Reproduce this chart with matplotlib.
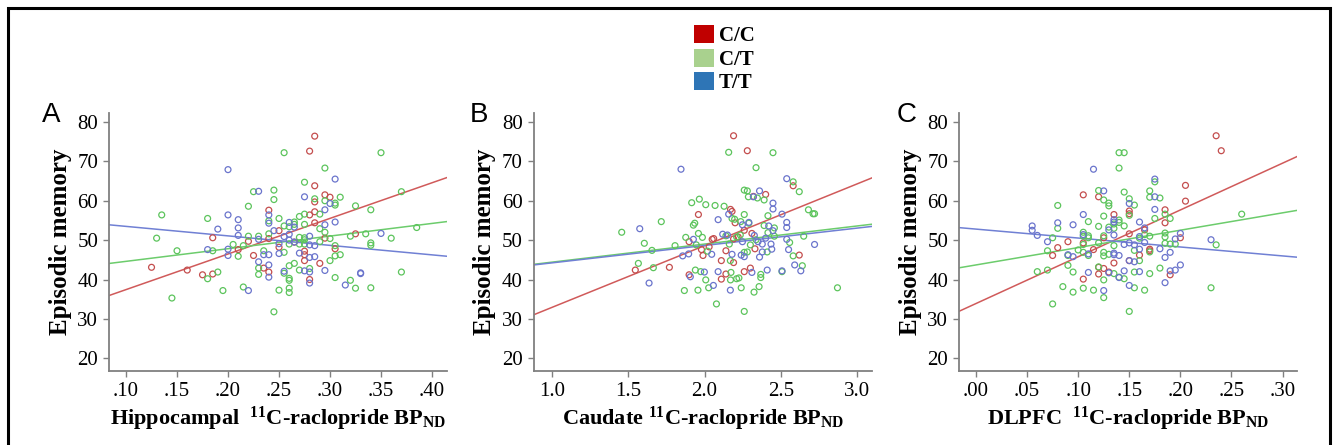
import numpy as np
import matplotlib
matplotlib.use("Agg")
import matplotlib.pyplot as plt
from matplotlib.patches import Patch, Rectangle

# Valeurs (BPND, mémoire épisodique) par génotype
# --- Panel A : hippocampe
a_cc_x = [.125, .160, .175, .185, .185, .210, .220, .225, .235, .240, .240, .240, .250, .250,
          .265, .275, .275, .275, .280, .280, .280, .285, .285, .285, .285, .285, .290, .295,
          .300, .295, .305, .325]
a_cc_y = [43.1, 42.4, 41.2, 41.4, 50.6, 47.6, 49.7, 46.1, 42.9, 57.6, 41.9, 50.4, 52.4, 48.2,
          49.5, 47.2, 46.3, 44.8, 72.6, 56.4, 40.0, 76.4, 63.8, 59.7, 57.2, 54.4, 44.1, 61.5,
          60.9, 50.5, 47.8, 51.6]
a_ct_x = [.130, .135, .145, .150, .180, .180, .185, .190, .195, .205, .210, .215, .215, .220,
          .220, .225, .230, .230, .230, .235, .240, .240, .245, .245, .245, .250, .250, .255,
          .255, .255, .255, .260, .260, .260, .260, .260, .260, .260, .265, .265, .265, .270,
          .270, .270, .270, .275, .275, .275, .275, .275, .275, .280, .285, .290, .290, .290,
          .295, .295, .295, .300, .300, .305, .305, .305, .305, .305, .310, .310, .320, .320,
          .325, .325, .335, .340, .340, .340, .340, .350, .360, .370, .370, .385]
a_ct_y = [50.5, 56.4, 35.3, 47.3, 55.5, 40.2, 47.3, 41.9, 37.2, 48.9, 45.9, 48.6, 38.1, 58.6,
          51.0, 62.3, 51.0, 42.9, 41.3, 47.3, 54.9, 51.6, 62.7, 60.3, 31.8, 55.5, 37.3, 72.2,
          53.6, 46.9, 41.6, 53.4, 49.0, 43.5, 40.3, 39.8, 37.8, 36.7, 54.6, 54.0, 44.1, 56.0,
          50.7, 49.0, 42.4, 64.7, 56.6, 54.0, 50.6, 50.1, 49.0, 42.8, 60.5, 52.9, 49.6, 56.6,
          68.3, 60.0, 52.0, 50.4, 44.8, 59.4, 58.9, 48.6, 46.0, 40.5, 60.9, 46.3, 51.0, 39.8,
          58.7, 37.8, 51.6, 57.7, 49.3, 48.7, 37.9, 72.2, 50.5, 62.3, 41.9, 53.2]
a_tt_x = [.180, .190, .200, .200, .200, .200, .210, .210, .210, .220, .230, .230, .230, .235,
          .240, .240, .240, .240, .240, .245, .250, .250, .255, .255, .260, .260, .260, .265,
          .265, .270, .275, .275, .280, .280, .280, .280, .280, .285, .285, .295, .295, .295,
          .300, .305, .305, .315, .330, .330, .350]
a_tt_y = [47.6, 52.8, 67.9, 56.4, 47.7, 46.1, 55.2, 53.1, 51.2, 37.2, 62.4, 50.2, 44.5, 46.3,
          56.4, 54.3, 46.3, 43.7, 40.6, 52.4, 49.1, 46.6, 50.9, 42.1, 54.5, 51.5, 50.0, 53.3,
          49.5, 46.7, 61.0, 42.2, 51.0, 48.8, 45.6, 41.9, 39.1, 48.6, 45.8, 57.7, 53.9, 42.3,
          59.3, 65.5, 54.6, 38.6, 41.7, 41.5, 51.7]

# --- Panel B : caudé
b_cc_x = [1.547, 1.77, 1.899, 1.899, 1.96, 1.98, 1.99, 2.03, 2.05, 2.06, 2.11, 2.11, 2.14,
          2.14, 2.17, 2.18, 2.19, 2.19, 2.19, 2.20, 2.22, 2.26, 2.26, 2.28, 2.30, 2.31, 2.32,
          2.33, 2.40, 2.58, 2.62]
b_cc_y = [42.4, 43.1, 41.2, 49.6, 56.5, 47.6, 46.1, 48.3, 50.2, 50.4, 44.8, 40.1, 47.3,
          41.4, 57.8, 57.3, 44.3, 76.5, 50.3, 54.4, 50.8, 52.5, 42.0, 72.7, 42.9, 51.7, 61.1,
          47.8, 61.6, 63.8, 46.2]
b_ct_x = [1.458, 1.567, 1.606, 1.656, 1.665, 1.717, 1.807, 1.868, 1.877, 1.916, 1.927, 1.936,
          1.94, 1.946, 1.957, 1.96, 1.966, 1.975, 1.986, 2.008, 2.008, 2.02, 2.027, 2.078,
          2.069, 2.128, 2.14, 2.158, 2.162, 2.169, 2.17, 2.173, 2.18, 2.197, 2.21, 2.21, 2.225,
          2.234, 2.24, 2.237, 2.26, 2.26, 2.26, 2.26, 2.28, 2.287, 2.29, 2.28, 2.30, 2.324,
          2.337, 2.337, 2.346, 2.357, 2.368, 2.368, 2.39, 2.39, 2.415, 2.415, 2.41, 2.448,
          2.457, 2.457, 2.507, 2.557, 2.58, 2.58, 2.62, 2.64, 2.649, 2.68, 2.71, 2.72, 2.87]
b_ct_y = [52.0, 44.1, 49.2, 47.4, 43.0, 54.7, 48.6, 37.2, 50.7, 59.5, 53.8, 54.3, 42.4, 48.8,
          37.3, 51.7, 60.4, 42.0, 50.7, 59.0, 39.9, 47.2, 37.9, 33.8, 58.8, 58.6, 51.1, 72.3,
          49.0, 44.8, 39.9, 41.8, 55.5, 55.3, 50.8, 40.2, 40.4, 51.3, 37.9, 54.7, 62.7, 56.5,
          46.9, 31.9, 62.5, 61.0, 54.3, 47.0, 48.8, 36.8, 68.4, 50.1, 60.7, 38.2, 41.3, 40.5,
          60.2, 53.7, 56.2, 51.9, 47.0, 72.2, 53.1, 51.0, 42.0, 49.4, 46.0, 64.8, 62.3, 43.5,
          51.0, 57.7, 56.7, 56.7, 37.9]
b_tt_x = [1.576, 1.637, 1.857, 1.846, 1.896, 1.907, 1.927, 1.999, 2.047, 2.058, 2.089, 2.089,
          2.119, 2.15, 2.158, 2.169, 2.18, 2.24, 2.248, 2.248, 2.26, 2.29, 2.31, 2.326, 2.32,
          2.35, 2.36, 2.36, 2.378, 2.378, 2.40, 2.41, 2.42, 2.435, 2.44, 2.448, 2.448, 2.448,
          2.507, 2.507, 2.538, 2.538, 2.538, 2.538, 2.55, 2.59, 2.63, 2.72]
b_tt_y = [52.9, 39.1, 46.0, 68.0, 46.5, 40.7, 50.2, 41.9, 46.4, 38.5, 55.2, 42.0, 51.5, 51.3,
          56.6, 37.3, 46.4, 46.2, 53.9, 49.6, 45.8, 54.5, 41.8, 51.2, 61.0, 49.6, 62.5, 45.7,
          49.0, 47.0, 50.5, 42.4, 53.6, 49.0, 47.7, 59.4, 57.9, 52.4, 56.6, 42.2, 65.6, 54.5,
          53.2, 50.2, 47.6, 43.7, 42.2, 48.9]

# --- Panel C : DLPFC
c_cc_x = [.075, .080, .090, .105, .105, .105, .115, .120, .120, .120, .125, .125, .130, .135,
          .135, .150, .150, .150, .150, .160, .165, .170, .170, .185, .185, .190, .200, .205,
          .205, .235, .240]
c_cc_y = [46.1, 48.1, 49.6, 61.5, 49.3, 40.1, 47.6, 61.0, 43.1, 41.4, 50.6, 42.8, 41.9, 56.5,
          44.2, 57.4, 56.7, 51.6, 44.8, 46.2, 52.6, 47.7, 47.3, 57.7, 54.4, 41.2, 50.6, 63.9,
          59.9, 76.5, 72.7]
c_ct_x = [.060, .070, .070, .075, .075, .080, .080, .085, .090, .090, .095, .095, .100, .105,
          .105, .105, .105, .105, .110, .110, .110, .110, .115, .120, .120, .120, .120, .125,
          .125, .125, .125, .125, .125, .125, .130, .130, .130, .130, .135, .135, .135, .135,
          .140, .140, .140, .140, .140, .145, .145, .145, .145, .150, .150, .150, .155, .155,
          .155, .155, .160, .160, .165, .165, .170, .170, .170, .170, .170, .175, .175, .180,
          .180, .185, .185, .185, .185, .190, .190, .195, .230, .235, .260]
c_ct_y = [42.0, 47.3, 42.4, 50.6, 33.8, 58.8, 53.0, 38.2, 46.1, 43.6, 41.9, 36.8, 47.5, 52.0,
          51.0, 48.9, 46.9, 37.8, 54.7, 51.1, 50.6, 46.1, 37.3, 62.6, 53.5, 49.3, 43.2, 60.2,
          56.1, 51.1, 46.9, 46.0, 39.9, 35.4, 59.4, 58.7, 53.3, 46.4, 54.1, 53.0, 48.6, 41.5,
          72.2, 68.3, 55.1, 54.5, 40.6, 72.2, 62.2, 53.6, 40.2, 60.5, 56.3, 31.9, 58.9, 47.4,
          41.9, 37.9, 50.5, 44.8, 51.4, 37.3, 62.5, 60.9, 51.0, 47.0, 41.5, 64.8, 55.5, 60.7,
          42.9, 56.6, 51.8, 50.8, 49.2, 55.5, 49.0, 49.0, 37.9, 48.8, 56.6]
c_tt_x = [.055, .055, .060, .070, .080, .090, .095, .095, .105, .105, .110, .110, .115, .125,
          .125, .130, .130, .135, .135, .135, .135, .135, .140, .140, .145, .145, .150, .150,
          .150, .150, .155, .155, .160, .160, .160, .160, .165, .165, .175, .175, .175, .180,
          .185, .185, .190, .190, .195, .195, .200, .200, .230]
c_tt_y = [53.6, 52.5, 51.2, 49.6, 54.4, 46.3, 53.9, 45.8, 56.5, 51.4, 46.5, 41.8, 68.0, 62.5,
          37.2, 52.6, 41.7, 55.2, 54.6, 51.3, 46.7, 46.3, 46.1, 40.5, 48.9, 42.2, 59.3, 49.3,
          44.8, 38.5, 48.8, 44.5, 54.6, 50.9, 47.7, 42.0, 53.1, 49.4, 65.5, 61.0, 57.8, 47.8,
          45.6, 39.2, 46.9, 42.2, 50.3, 42.4, 51.7, 43.7, 50.1]

# droites de régression : (ordonnée à l'origine, pente)
a_fits = [(28.4, 90.4), (41.4, 32.1), (55.9, -24.1)]
b_fits = [(17.2, 15.7), (39.8, 4.6), (39.8, 4.42)]
c_fits = [(33.9, 118.8), (43.7, 44.1), (52.8, -22.7)]

genotypes = ["C/C", "C/T", "T/T"]
legend_colors = ["#c00000", "#a9d18e", "#2e75b6"]
point_colors = ["#c44e4e", "#5cc45c", "#6a74cc"]
line_colors = ["#d05a5a", "#6ccc6c", "#7080d4"]

panels = [
    ("A", "Hippocampal  $\\mathrm{^{11}}$C-raclopride BP$\\mathrm{_{ND}}$",
     [(a_cc_x, a_cc_y), (a_ct_x, a_ct_y), (a_tt_x, a_tt_y)], a_fits,
     (0.0836, 0.415), [.10, .15, .20, .25, .30, .35, .40],
     [".10", ".15", ".20", ".25", ".30", ".35", ".40"]),
    ("B", "Caudate $\\mathrm{^{11}}$C-raclopride BP$\\mathrm{_{ND}}$",
     [(b_cc_x, b_cc_y), (b_ct_x, b_ct_y), (b_tt_x, b_tt_y)], b_fits,
     (0.884, 3.096), [1.0, 1.5, 2.0, 2.5, 3.0],
     ["1.0", "1.5", "2.0", "2.5", "3.0"]),
    ("C", "DLPFC  $\\mathrm{^{11}}$C-raclopride BP$\\mathrm{_{ND}}$",
     [(c_cc_x, c_cc_y), (c_ct_x, c_ct_y), (c_tt_x, c_tt_y)], c_fits,
     (-0.0163, 0.3144), [.00, .05, .10, .15, .20, .25, .30],
     [".00", ".05", ".10", ".15", ".20", ".25", ".30"]),
]
y_ticks = [20, 30, 40, 50, 60, 70, 80]

plt.rcParams["font.family"] = ["Liberation Serif", "DejaVu Serif"]
plt.rcParams["mathtext.fontset"] = "custom"
plt.rcParams["mathtext.rm"] = "Liberation Serif:bold"
plt.rcParams["mathtext.bf"] = "Liberation Serif:bold"

W, H = 1335, 445
fig = plt.figure(figsize=(W / 100, H / 100), dpi=100)

lefts = [109.3, 534.0, 959.3]
letter_x = [42, 470, 897]
for k, (letter, xlab, groups, fits, xlim, xt, xtl) in enumerate(panels):
    ax = fig.add_axes([lefts[k] / W, (H - 370.7) / H, 338 / W, 257.4 / H])
    for (gx, gy), c in zip(groups, point_colors):
        ax.scatter(gx, gy, s=18, facecolors="none", edgecolors=c, linewidths=0.9, zorder=3)
    xs = np.array(xlim)
    for (b0, b1), c in zip(fits, line_colors):
        ax.plot(xs, b0 + b1 * xs, color=c, lw=1.1, zorder=2)
    ax.set_xlim(xlim)
    ax.set_ylim(16.85, 82.2)
    ax.set_xticks(xt)
    ax.set_xticklabels(xtl)
    ax.set_yticks(y_ticks)
    for s in ["top", "right"]:
        ax.spines[s].set_visible(False)
    for s in ["left", "bottom"]:
        ax.spines[s].set_color("#808080")
        ax.spines[s].set_linewidth(1.3)
    ax.tick_params(colors="#808080", labelcolor="black", labelsize=15, length=4, width=1, pad=4)
    ax.set_ylabel("Episodic memory", fontsize=18, fontweight="bold", labelpad=4)
    ax.set_xlabel(xlab, fontsize=16, fontweight="bold", labelpad=3)
    fig.text(letter_x[k] / W, 1 - 122 / H, letter, fontsize=20,
             family="Liberation Sans", ha="left", va="baseline")

handles = [Patch(facecolor=c, edgecolor="none") for c in legend_colors]
fig.legend(handles, genotypes, loc="upper left", bbox_to_anchor=(694 / W, 1 - 25 / H),
           frameon=False, prop={"size": 15, "weight": "bold"}, handlelength=0.95,
           handleheight=0.95, handletextpad=0.25, labelspacing=0.12, borderpad=0,
           borderaxespad=0)

# cadre noir autour de la figure
fig.add_artist(Rectangle((7.5 / W, -0.1), (1329.5 - 7.5) / W, 1.1 - 8 / H,
                         transform=fig.transFigure, fill=False, ec="black", lw=2.2))

fig.savefig("out.png", dpi=100)
